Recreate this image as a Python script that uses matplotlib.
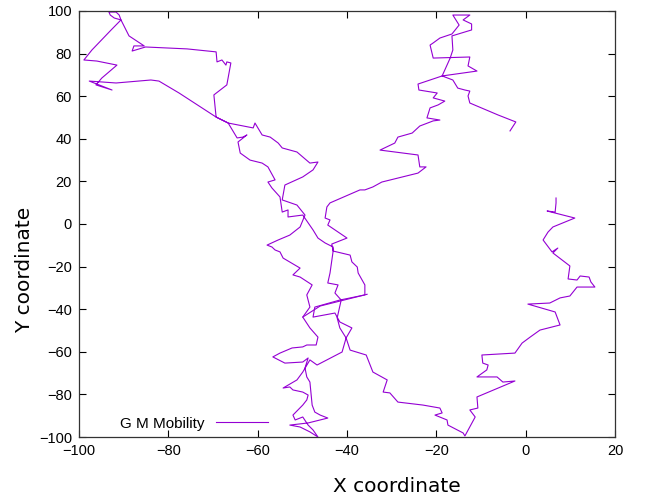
import matplotlib
matplotlib.use('Agg')
import matplotlib.pyplot as plt

# trajectory of the node (x, y in metres)
x_pos = [-3.5, -2.2, -6.2, -12.5, -12.9, -12.5, -13.6, -15.2, -16.3, -18.7,
         -16.9, -16.3, -16.5, -12.1, -12.1, -14.0, -12.5, -16.3, -14.9, -16.5,
         -19.2, -20.7, -21.4, -20.7, -12.5, -12.9, -10.9, -18.7, -24.1, -23.9,
         -19.8, -20.7, -18.1, -19.6, -21.4, -22.1, -19.2, -20.7, -23.7, -25.4,
         -28.6, -29.3, -32.6, -24.1, -23.7, -22.3, -24.1, -32.2, -34.2, -36.0,
         -37.1, -43.8, -44.5, -44.9, -43.8, -44.3, -40.0, -43.4, -43.1, -39.3,
         -38.9, -37.7, -37.5, -36.0, -36.0, -41.6, -47.2, -47.6, -42.7, -41.6,
         -38.9, -40.2, -41.1, -46.7, -48.3, -49.9, -51.2, -54.3, -52.8, -52.1,
         -49.9, -48.7, -49.0, -49.9, -52.1, -51.6, -49.9, -48.7, -47.6, -46.5,
         -48.3, -50.5, -52.8, -48.7, -44.3, -46.0, -47.2, -47.8, -48.3, -49.0,
         -49.4, -48.7, -49.9, -53.9, -56.6, -55.0, -52.3, -49.9, -49.0, -46.9,
         -46.5, -48.3, -49.9, -48.3, -49.0, -47.8, -50.5, -52.1, -50.5, -54.3,
         -55.0, -56.1, -56.8, -57.9, -55.4, -52.8, -50.5, -49.4, -51.2, -54.5,
         -53.9, -49.9, -47.6, -46.5, -48.3, -51.2, -54.5, -55.4, -57.2, -59.0,
         -60.6, -61.0, -66.6, -69.3, -77.6, -82.1, -83.9, -91.7, -97.7, -92.6,
         -96.2, -94.9, -91.5, -96.0, -98.9, -97.1, -92.8, -90.6, -92.1, -93.0,
         -93.3, -91.7, -91.0, -90.6, -88.8, -85.4, -87.7, -88.1, -85.1, -75.8,
         -69.3, -69.1, -68.0, -67.1, -66.9, -66.0, -66.9, -69.8, -69.3, -66.6,
         -64.6, -63.3, -62.4, -64.4, -63.9, -61.7, -59.0, -57.7, -56.1, -57.7,
         -56.8, -55.0, -54.5, -53.2, -53.2, -49.9, -47.6, -46.5, -44.9, -43.1,
         -43.1, -43.8, -44.3, -42.0, -42.7, -41.3, -42.2, -41.6, -40.2, -39.3,
         -35.7, -34.2, -31.0, -31.9, -30.4, -28.6, -23.0, -19.2, -18.7, -20.3,
         -17.6, -17.4, -14.0, -13.6, -11.3, -12.5, -10.7, -10.9, -2.4, -5.1,
         -6.4, -10.9, -8.7, -8.4, -9.6, -9.8, -2.4, -0.8, 1.0, 3.2,
         7.7, 6.6, 0.5, 5.4, 7.7, 9.9, 11.5, 15.5, 14.6, 14.2,
         12.2, 11.5, 9.5, 9.9, 6.1, 7.2, 5.9, 3.9, 5.0, 6.1,
         11.0, 4.8, 6.6, 6.8, 6.8]
y_pos = [43.7, 47.9, 51.2, 56.8, 60.1, 62.4, 62.9, 63.8, 67.6, 69.5,
         77.9, 81.7, 88.3, 91.1, 93.9, 95.8, 98.1, 98.1, 93.4, 89.2,
         87.3, 85.0, 84.0, 77.9, 78.4, 74.2, 71.8, 69.5, 65.7, 62.9,
         61.5, 59.2, 57.7, 55.9, 54.5, 49.8, 48.8, 48.4, 46.0, 42.7,
         40.8, 38.0, 34.7, 32.4, 26.8, 26.8, 23.9, 19.7, 17.4, 16.0,
         16.0, 9.9, 8.0, 2.8, 1.9, -0.5, -6.6, -9.4, -12.7, -14.6,
         -17.8, -20.2, -23.0, -28.6, -33.3, -35.7, -39.0, -43.7, -41.8, -46.0,
         -48.8, -53.5, -60.1, -66.2, -63.8, -69.5, -73.2, -77.0, -76.5, -77.9,
         -78.9, -80.3, -82.6, -85.0, -89.7, -92.0, -90.6, -94.4, -96.7, -100.0,
         -97.6, -95.3, -94.4, -93.4, -91.1, -89.7, -88.3, -85.0, -74.2, -71.8,
         -67.6, -62.9, -64.8, -65.3, -62.4, -60.6, -58.2, -57.7, -56.8, -56.8,
         -53.1, -48.8, -43.7, -39.0, -33.3, -28.6, -24.9, -23.9, -20.7, -16.0,
         -13.1, -12.2, -10.8, -9.9, -7.5, -5.2, -1.4, 4.2, 8.9, 11.3,
         18.3, 22.1, 25.4, 29.1, 28.6, 33.8, 35.7, 38.0, 40.8, 41.8,
         47.4, 45.1, 47.4, 50.2, 61.5, 67.1, 67.6, 66.2, 67.1, 62.9,
         65.3, 68.5, 74.6, 76.5, 77.0, 81.7, 91.1, 95.8, 96.7, 98.1,
         99.5, 99.5, 98.1, 95.8, 88.3, 83.6, 83.6, 81.2, 83.1, 82.2,
         80.8, 76.1, 77.0, 74.6, 76.1, 75.6, 65.3, 60.6, 50.2, 47.4,
         40.4, 40.8, 41.8, 38.5, 33.3, 30.0, 28.6, 26.8, 20.7, 19.7,
         16.9, 12.7, 5.6, 6.6, 3.3, 4.2, -2.8, -6.6, -8.9, -10.8,
         -12.7, -23.0, -27.7, -28.6, -32.4, -35.7, -44.1, -48.8, -53.5, -59.2,
         -61.5, -69.5, -73.2, -78.9, -79.3, -83.6, -85.0, -86.4, -88.7, -89.7,
         -92.0, -94.4, -98.1, -99.5, -90.6, -87.3, -86.4, -81.2, -73.7, -74.2,
         -71.8, -71.8, -68.5, -66.2, -65.3, -61.5, -60.6, -55.9, -53.1, -49.8,
         -47.4, -41.3, -37.6, -37.1, -34.7, -33.8, -29.6, -29.6, -27.2, -24.9,
         -24.4, -26.3, -25.8, -19.7, -13.6, -11.3, -13.1, -7.5, -3.8, -1.4,
         2.8, 6.1, 5.6, 9.9, 12.2]

# second pass across the middle (the two nearly parallel long strokes)
x_cross = [-49.9, -46.0, -35.5]
y_cross = [-43.7, -38.5, -33.0]

x_ticks = [-100, -80, -60, -40, -20, 0, 20]
y_ticks = [-100, -80, -60, -40, -20, 0, 20, 40, 60, 80, 100]

fig = plt.figure(figsize=(6.49, 4.97), dpi=100)
ax = fig.add_axes([0.1217, 0.1207, 0.8259, 0.8572])

ax.plot(x_pos, y_pos, color='#9400d3', lw=0.8, label='G M Mobility')
ax.plot(x_cross, y_cross, color='#9400d3', lw=0.8)

ax.set_xlim(-100, 20)
ax.set_ylim(-100, 100)
ax.set_xticks(x_ticks)
ax.set_yticks(y_ticks)
ax.tick_params(direction='in', length=5, width=0.8, top=True, right=True,
               labelsize=10.5, pad=5)
for lbl in ax.get_xticklabels() + ax.get_yticklabels():
    lbl.set_family('Liberation Sans')
for s in ax.spines.values():
    s.set_linewidth(0.9)
    s.set_color('#333333')

ax.set_xlabel('X coordinate', fontsize=14.5)
ax.set_ylabel('Y coordinate', fontsize=14.5)
# gnuplot places the axis titles off-centre
ax.xaxis.set_label_coords(0.593, -0.095)
ax.yaxis.set_label_coords(-0.083, 0.392)

leg = ax.legend(loc='lower left', bbox_to_anchor=(0.05, -0.017), frameon=False,
                markerfirst=False, handlelength=3.4,
                prop={'family': 'Liberation Sans', 'size': 11})

fig.savefig('out.png', dpi=100)
